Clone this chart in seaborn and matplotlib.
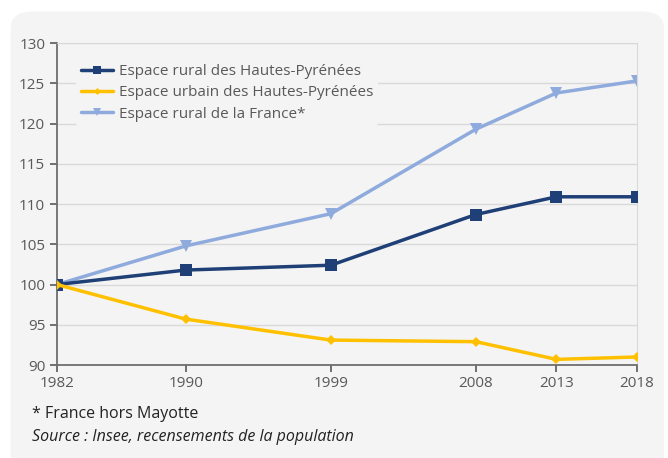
import matplotlib
matplotlib.use('Agg')
import matplotlib.pyplot as plt
from matplotlib.patches import FancyBboxPatch
import seaborn as sns
import pandas as pd

years = [1982, 1990, 1999, 2008, 2013, 2018]
rural_hp = [100, 101.8, 102.4, 108.7, 110.9, 110.9]
urbain_hp = [100, 95.7, 93.1, 92.9, 90.7, 91.0]
rural_fr = [100, 104.8, 108.8, 119.3, 123.8, 125.3]
series_names = ['Espace rural des Hautes-Pyrénées',
                'Espace urbain des Hautes-Pyrénées',
                'Espace rural de la France*']
yticks = [90, 95, 100, 105, 110, 115, 120, 125, 130]

df = pd.DataFrame({
    'year': years * 3,
    'value': rural_hp + urbain_hp + rural_fr,
    'serie': [s for s in series_names for _ in years],
})

sns.set_style('white')
plt.rcParams['font.family'] = ['Open Sans', 'DejaVu Sans']

bg = '#f4f4f4'
fig = plt.figure(figsize=(6.68, 4.58), dpi=100)
fig.patch.set_facecolor('white')
fig.patches.append(FancyBboxPatch((0.016, -0.05), 0.978, 1.025,
                                  boxstyle='round,pad=0,rounding_size=0.035',
                                  transform=fig.transFigure, facecolor=bg,
                                  edgecolor='none', zorder=-10))
ax = fig.add_axes([0.0853, 0.203, 0.8683, 0.703])
ax.set_facecolor(bg)

palette = ['#1f3f77', '#ffc000', '#8faadc']
markers = ['s', 'D', 'v']
sizes = [8, 5, 8]
for name, col, mk, ms in zip(series_names, palette, markers, sizes):
    sub = df[df.serie == name]
    sns.lineplot(data=sub, x='year', y='value', color=col, marker=mk,
                 markersize=ms, markeredgewidth=0, lw=2.5, ax=ax,
                 label=name, zorder=3 if name != series_names[2] else 2)

ax.set_xlim(1982, 2018)
ax.set_ylim(90, 130)
ax.set_xticks(years)
ax.set_yticks(yticks)
ax.tick_params(axis='both', colors='#595959', labelsize=11, length=5,
               direction='out', width=1.2, left=True, bottom=True)
ax.tick_params(axis='x', pad=3)
ax.grid(axis='y', color='#d9d9d9', lw=1)
for s in ['left', 'bottom']:
    ax.spines[s].set_color('#6e6e6e')
    ax.spines[s].set_linewidth(1.3)
ax.spines['top'].set_color('#d9d9d9')
ax.spines['right'].set_color('#d9d9d9')
ax.set_xlabel('')
ax.set_ylabel('')

leg = ax.legend(loc='upper left', bbox_to_anchor=(0.02, 0.972), frameon=True,
                fontsize=11, handlelength=2.1, handletextpad=0.4,
                labelspacing=0.4, borderpad=0.3, markerscale=0.7)
leg.get_frame().set_facecolor(bg)
leg.get_frame().set_edgecolor('none')
leg.get_frame().set_alpha(1)
for t in leg.get_texts():
    t.set_color('#595959')

fig.text(0.048, 0.088, '* France hors Mayotte', fontsize=11.5, color='#222222')
fig.text(0.048, 0.037, 'Source : Insee, recensements de la population',
         fontsize=11.5, color='#222222', style='italic')

fig.savefig('out.png', dpi=100, facecolor='white')
